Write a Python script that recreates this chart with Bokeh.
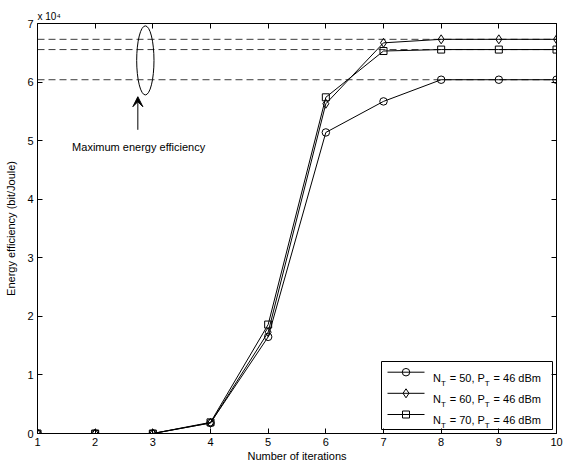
from bokeh.plotting import figure
from bokeh.models import (LinearAxis, Range1d, FixedTicker, CustomJSTickFormatter,
                          Label, Arrow, VeeHead, Span)
from bokeh.embed import file_html
from bokeh.resources import INLINE

# ---------------- data ----------------
iterations = [1, 2, 3, 4, 5, 6, 7, 8, 9, 10]
ee_nt50 = [0, 0, 0, 1800, 16500, 51400, 56700, 60400, 60400, 60400]
ee_nt60 = [0, 0, 0, 1800, 17300, 56300, 66700, 67300, 67300, 67300]
ee_nt70 = [0, 0, 0, 1900, 18600, 57400, 65300, 65550, 65550, 65550]
nt_values = ["50", "60", "70"]
pt_values = ["46", "46", "46"]
markers = ["circle", "diamond", "square"]
x_ticks = [1, 2, 3, 4, 5, 6, 7, 8, 9, 10]
y_ticks = [0, 10000, 20000, 30000, 40000, 50000, 60000, 70000]

FONT = "Liberation Sans"
W, H = 563, 464
BL, BR, BT, BB = 37, 7, 23, 31
X0, X1 = 1, 10
Y0, Y1 = 0, 70000

p = figure(width=W, height=H, x_range=Range1d(X0, X1), y_range=Range1d(Y0, Y1),
           output_backend="svg", toolbar_location=None,
           min_border_left=BL, min_border_right=BR, min_border_top=BT, min_border_bottom=BB)
p.outline_line_color = None
p.xgrid.visible = False
p.ygrid.visible = False
p.background_fill_color = "white"
p.border_fill_color = "white"

# exponent note ("x 10^4") as the title, left aligned on the frame
p.title.text = "x 10\u2074"
p.title.align = "left"
p.title.text_font = FONT
p.title.text_font_size = "10px"
p.title.text_font_style = "normal"
p.title.text_color = "black"
p.title.standoff = 3
p.title.offset = 0

def style_axis(ax, labels=True, standoff=3):
    ax.major_tick_in = 5
    ax.major_tick_out = 0
    ax.minor_tick_line_color = None
    ax.axis_line_color = "black"
    ax.major_tick_line_color = "black"
    ax.major_label_text_font = FONT
    ax.major_label_standoff = standoff
    if labels:
        ax.major_label_text_font_size = "11px"
        ax.major_label_text_color = "black"
    else:
        ax.major_label_text_font_size = "1px"
        ax.major_label_text_color = None
        ax.major_label_standoff = 0
    ax.axis_label_text_font = FONT
    ax.axis_label_text_font_size = "11px"
    ax.axis_label_text_font_style = "normal"
    ax.axis_label_text_color = "black"

xa = p.xaxis[0]
xa.ticker = FixedTicker(ticks=x_ticks)
xa.axis_label = "Number of iterations"
style_axis(xa, standoff=4)
xa.axis_label_standoff = 1

ya = p.yaxis[0]
ya.ticker = FixedTicker(ticks=y_ticks)
ya.formatter = CustomJSTickFormatter(code="return (tick/10000).toFixed(0)")
ya.axis_label = "Energy efficiency (bit/Joule)"
style_axis(ya, standoff=4)
ya.axis_label_standoff = 7

top = LinearAxis(ticker=FixedTicker(ticks=x_ticks))
style_axis(top, labels=False)
p.add_layout(top, "above")
right = LinearAxis(ticker=FixedTicker(ticks=y_ticks))
style_axis(right, labels=False)
p.add_layout(right, "right")

# maximum-value dashed reference lines
for s in (ee_nt60, ee_nt70, ee_nt50):
    p.add_layout(Span(location=max(s), dimension="width", line_color="#3c3c3c",
                      line_width=1, line_dash="7 4", level="underlay"))

# data series
series = [ee_nt50, ee_nt60, ee_nt70]
msize = {"circle": 7.5, "diamond": 9, "square": 7}
for s, m in zip(series, markers):
    p.line(iterations, s, line_color="black", line_width=1)
    p.scatter(iterations, s, marker=m, size=msize[m], fill_color=None,
              line_color="black", line_width=1)

# annotation: ellipse + arrow + text
p.ellipse(x=[2.87], y=[63700], width=0.30, height=11800, fill_color=None,
          line_color="black", line_width=1)
p.add_layout(Arrow(x_start=2.74, y_start=51850, x_end=2.74, y_end=57500,
                   line_color="black", line_width=1,
                   end=VeeHead(size=10, fill_color="black", line_color="black")))
p.add_layout(Label(x=1.60, y=49000, text="Maximum energy efficiency",
                   text_font=FONT, text_font_size="11px", text_color="black",
                   text_baseline="alphabetic"))

# helpers for pixel -> data (decoration layout only)
FL, FR, FT, FB = BL, W - BR, BT, H - BB
def px2x(px):
    return X0 + (px - FL) / (FR - FL) * (X1 - X0)
def px2y(py):
    return Y0 + (FB - py) / (FB - FT) * (Y1 - Y0)

# legend (manual, to allow subscripts)
CW = {"N": .722, "T": .611, "P": .667, " ": .278, "=": .584, ",": .278, "d": .556,
      "B": .667, "m": .833}
def tw(s, size):
    return sum(CW.get(c, .556) for c in s) * size

p.quad(left=[px2x(381)], right=[px2x(552)], top=[px2y(361)], bottom=[px2y(429)],
       fill_color="white", line_color="black", line_width=1)
rows = [371.7, 392.8, 414.0]
for ry, m, nt, pt in zip(rows, markers, nt_values, pt_values):
    p.line([px2x(387), px2x(424)], [px2y(ry), px2y(ry)], line_color="black", line_width=1)
    p.scatter([px2x(405.5)], [px2y(ry)], marker=m, size=msize[m], fill_color=None,
              line_color="black", line_width=1)
    base = ry + 5.3
    sub = base + 6.0
    x = 432.5
    pieces = [("N", 11, base, 0.0), ("T", 8, sub, 0.8), ("= %s, P" % nt, 11, base, 0.0),
              ("T", 8, sub, 0.8), ("= %s dBm" % pt, 11, base, 0.0)]
    for i, (txt, size, by, extra) in enumerate(pieces):
        if txt.startswith("="):
            x += tw(" ", 11)
        p.add_layout(Label(x=px2x(x), y=px2y(by), text=txt, text_font=FONT,
                           text_font_size="%gpx" % size, text_color="black",
                           text_baseline="alphabetic"))
        x += tw(txt, size) + extra

open("out.html", "w").write(file_html(p, INLINE))
